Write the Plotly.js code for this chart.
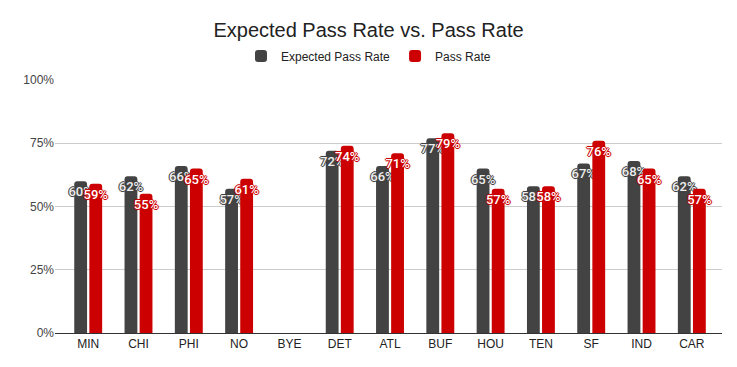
<!DOCTYPE html>
<html>
<head>
<meta charset="utf-8">
<script src="https://cdn.plot.ly/plotly-3.0.1.min.js"></script>
<style>html,body{margin:0;padding:0;background:#fff;}#chart{width:737px;height:367px;}</style>
</head>
<body>
<div id="chart"></div>
<script>
const teams = ["MIN","CHI","PHI","NO","BYE","DET","ATL","BUF","HOU","TEN","SF","IND","CAR"];
const expectedPassRate = [60,62,66,57,null,72,66,77,65,58,67,68,62];
const passRate = [59,55,65,61,null,74,71,79,57,58,76,65,57];
const yTicks = [0,25,50,75,100];
const yTickLabels = ["0%","25%","50%","75%","100%"];

const common = {
  type: 'bar',
  x: teams,
  texttemplate: '%{y}%',
  textposition: 'inside',
  insidetextanchor: 'end',
  constraintext: 'none',
  textangle: 0,
  cliponaxis: false,
  hoverinfo: 'skip'
};

function halo(c) {
  return '1px 0 0 ' + c + ', -1px 0 0 ' + c + ', 0 1px 0 ' + c + ', 0 -1px 0 ' + c + ', 0 0 2px ' + c;
}

const traces = [
  Object.assign({}, common, {
    name: 'Expected Pass Rate',
    y: expectedPassRate,
    marker: {color: '#434343'},
    textfont: {family: 'Roboto', size: 13, color: '#eeeeee', weight: 500, shadow: halo('#434343')}
  }),
  Object.assign({}, common, {
    name: 'Pass Rate',
    y: passRate,
    marker: {color: '#cc0000'},
    textfont: {family: 'Roboto', size: 13, color: '#ffffff', weight: 500, shadow: halo('#cc0000')}
  })
];

const layout = {
  width: 737, height: 367,
  margin: {l: 55, r: 15, t: 80, b: 34},
  paper_bgcolor: '#ffffff', plot_bgcolor: '#ffffff',
  font: {family: 'Liberation Sans, Arial', size: 12, color: '#444444'},
  title: {text: 'Expected Pass Rate vs. Pass Rate', font: {family: 'Liberation Sans, Arial', size: 20, color: '#222222'},
    x: 0.5, xanchor: 'center', yref: 'container', y: 1 - 30/367, yanchor: 'middle'},
  showlegend: true,
  legend: {orientation: 'h', xref: 'container', x: 0.5, xanchor: 'center', yref: 'container', y: 1 - 56/367, yanchor: 'middle',
    font: {family: 'Liberation Sans, Arial', size: 12, color: '#222222'}, traceorder: 'normal', itemwidth: 30},
  barmode: 'group',
  bargap: 0.4,
  bargroupgap: 0.15,
  barcornerradius: 3,
  xaxis: {type: 'category', range: [-0.66, 12.6], showline: true, linecolor: '#333333', linewidth: 1,
    ticks: '', showgrid: false, tickfont: {size: 12, color: '#222222'}, fixedrange: true},
  yaxis: {range: [0, 100], tickmode: 'array', tickvals: yTicks, ticktext: yTickLabels, showgrid: true, gridcolor: '#cccccc',
    zeroline: false, showline: false, ticks: '', tickfont: {size: 12, color: '#444444'}, fixedrange: true}
};

Plotly.newPlot('chart', traces, layout, {displayModeBar: false, staticPlot: true});
</script>
</body>
</html>
